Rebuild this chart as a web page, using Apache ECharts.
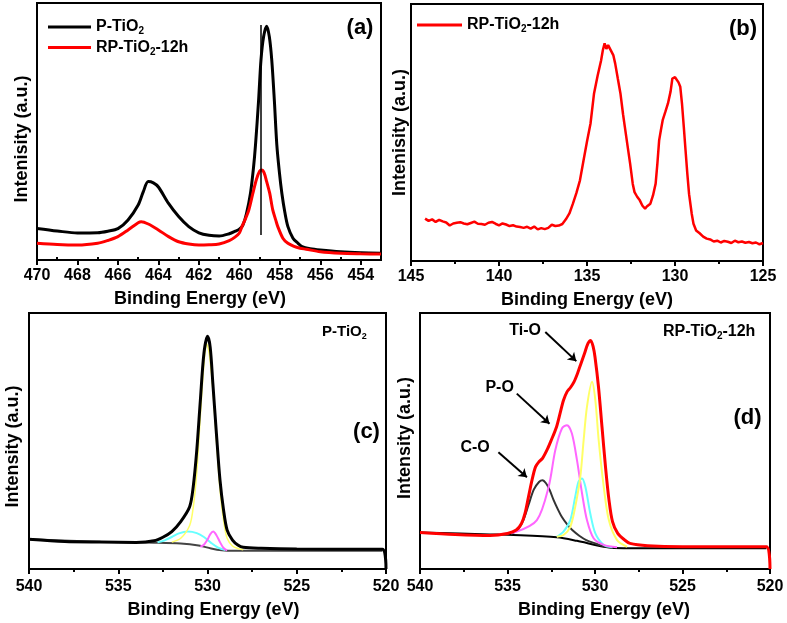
<!DOCTYPE html>
<html><head><meta charset="utf-8">
<script src="https://cdn.jsdelivr.net/npm/echarts@6/dist/echarts.min.js"></script>
<style>html,body{margin:0;padding:0;background:#fff}#c{width:787px;height:623px}</style>
</head><body><div id="c"></div>
<script>
const FONT = '"Liberation Sans", Arial, sans-serif';

// ---------- Panel (a): Ti 2p ----------
const aTicks = [454, 456, 458, 460, 462, 464, 466, 468, 470];
const aMinorTicks = [455, 457, 459, 461, 463, 465, 467, 469];
const aP = [[470,12.3],[469,11.3],[468,10.5],[467,10.6],[466.5,11.2],[466,12.2],[465.5,15.6],[465,21.4],[464.75,26.5],[464.5,30.5],[464.25,30],[464,28.4],[463.5,22],[463,16.9],[462.5,13],[462,10.6],[461.5,9.6],[461,9.3],[460.5,10.2],[460.2,11.2],[460,12.0],[459.83,13.5],[459.65,18],[459.45,26],[459.3,36],[459.2,45],[459.05,62],[458.93,78],[458.8,87],[458.65,91],[458.52,87],[458.4,78],[458.27,62],[458.15,45],[458.02,34],[457.9,26],[457.75,18.5],[457.6,13],[457.35,8.5],[457.1,6.5],[456.9,5.2],[456.5,4.4],[456,3.9],[455,3.2],[454,2.8],[453,2.6]];
const aRP = [[470,6.5],[469,6.0],[468,5.8],[467,6.5],[466.5,7.6],[466,9.1],[465.5,11.7],[465,14.5],[464.85,14.9],[464.5,14],[464,11.7],[463.5,9.1],[463,7.1],[462.5,6.2],[462,5.8],[461.5,5.9],[461,6.2],[460.5,7.5],[460.2,9],[460,10.5],[459.87,13],[459.7,16],[459.53,19.5],[459.33,26],[459.15,31.5],[459.0,34.5],[458.9,35],[458.78,34],[458.65,30.5],[458.5,26],[458.35,19.5],[458.2,15.5],[458.1,13],[457.85,8.5],[457.6,6.5],[457.3,5.3],[457,4.6],[456.7,4.2],[456,3.2],[455,2.6],[454,2.4],[453,2.3]];
const aRefLine = [[458.95, 91.4], [458.95, 9.7]];

// ---------- Panel (b): P 2p ----------
const bRP = [[144.2,16.5],[144.0,15.6],[143.8,16.2],[143.6,15.2],[143.4,16.0],[143.2,15.4],[143.0,15.0],[142.8,13.8],[142.6,14.6],[142.4,14.9],[142.2,15.1],[142.0,14.6],[141.8,14.3],[141.6,14.8],[141.4,15.3],[141.2,14.5],[141.0,14.4],[140.8,14.1],[140.6,14.9],[140.4,15.2],[140.2,14.5],[140.0,13.9],[139.8,14.6],[139.6,14.2],[139.4,13.6],[139.2,13.9],[139.0,13.4],[138.8,13.2],[138.6,12.9],[138.4,13.3],[138.2,12.6],[138.0,13.4],[137.8,12.3],[137.6,12.8],[137.4,12.4],[137.2,12.9],[137.0,14.1],[136.8,13.6],[136.6,13.8],[136.4,14.4],[136.2,16.2],[136.0,18.5],[135.8,22.3],[135.6,26.5],[135.4,31.4],[135.2,39],[135.0,46.5],[134.8,53.5],[134.6,65.2],[134.4,72],[134.2,78],[134.1,82],[134.0,84.7],[133.9,82.5],[133.8,84],[133.7,83.4],[133.5,80],[133.4,76.9],[133.25,71],[133.1,65.2],[132.95,57],[132.85,52.2],[132.7,45],[132.55,37.9],[132.4,30],[132.3,26.8],[132.15,25],[132.0,23.6],[131.85,21.5],[131.7,20.4],[131.6,21.2],[131.4,22.3],[131.25,25.5],[131.1,30.1],[131.0,38],[130.9,47],[130.8,51],[130.7,54.8],[130.55,58],[130.4,61.3],[130.25,66],[130.15,71],[130.0,71.5],[129.9,71],[129.8,69.5],[129.7,67.8],[129.6,61],[129.5,52.2],[129.4,43],[129.3,34],[129.2,26],[129.05,18.4],[128.95,14.5],[128.8,11.9],[128.6,10.8],[128.4,9.5],[128.2,8.7],[128.0,8.4],[127.8,7.6],[127.6,7.9],[127.4,7.2],[127.2,7.8],[127.0,7.5],[126.8,7.0],[126.6,7.9],[126.4,7.3],[126.2,7.6],[126.0,7.1],[125.8,7.4],[125.6,6.9],[125.4,7.2],[125.2,6.5],[125.0,7.0]];

// ---------- Panel (c): O 1s P-TiO2 ----------
const cEnv = [[540,11.6],[538,10.7],[536,10.5],[534,10.4],[533,11],[532.5,12.4],[532,14.6],[531.5,18.5],[531,24.3],[530.8,32.1],[530.6,46.4],[530.4,65.9],[530.2,84.2],[530.0,90.9],[529.85,86.7],[529.7,72.5],[529.5,52.9],[529.3,34.7],[529.1,23],[528.9,15.2],[528.6,11.3],[528.3,9.4],[528,8.5],[527,8.1],[525,7.8],[520.2,7.7],[520,0]];
const cBg = [[540,11.6],[536,10.6],[533,10.3],[531.5,10.0],[530.5,9.2],[529.8,8.0],[529.2,7.3],[528.5,7.1],[520.2,7.1]];
const cCyan = [[532.8,10.4],[532.4,11.2],[532,12.5],[531.6,13.9],[531.1,14.6],[530.6,14.0],[530.2,12.5],[529.8,10.2],[529.4,8.3],[529.0,7.4]];
const cMag = [[530.4,8.7],[530.2,9.5],[530.0,11.5],[529.85,13.5],[529.68,14.6],[529.5,13.2],[529.3,10.5],[529.1,8.2],[528.9,7.3]];
const cYel = [[532,10.5],[531.5,12],[531,17],[530.8,24],[530.6,38],[530.4,60],[530.2,80],[530.05,88],[529.9,84],[529.7,70],[529.5,50],[529.3,31],[529.1,19],[528.9,12],[528.6,9],[528.3,8],[528,7.5]];

// ---------- Panel (d): O 1s RP-TiO2-12h ----------
const dEnv = [[540,14.3],[538,13.5],[536,13.1],[535,13.9],[534.5,15.2],[534.2,17.8],[534,21.7],[533.8,28.2],[533.6,34.7],[533.4,39.9],[533.2,41.9],[533,43.2],[532.7,47.1],[532.5,50.3],[532.2,55.5],[532.0,60.7],[531.8,65.9],[531.6,69.2],[531.4,70.9],[531.2,73.1],[531.0,76.4],[530.8,80.3],[530.6,84.2],[530.4,88.1],[530.25,89.3],[530.1,86.7],[530.0,82.8],[529.8,71.1],[529.6,55.5],[529.4,39.9],[529.2,26.9],[529.0,18.5],[528.7,13.9],[528.3,11.3],[528,10],[527,9.1],[525,8.7],[520.2,8.7],[520,0]];
const dBg = [[540,14.3],[536,13.5],[534.66,13.3],[532.18,12.4],[531.03,11],[529.5,8.7],[528.36,8.1],[520.2,8.1]];
const dCO = [[534.8,13.6],[534.4,15.5],[534.1,19],[533.8,25],[533.5,31],[533.2,34],[533.0,34.7],[532.8,33.5],[532.6,31],[532.37,27],[532.1,23],[531.9,20.4],[531.6,17.5],[531.3,15.2],[530.9,13],[530.5,11.3],[530,10],[529.5,8.9],[529,8.3]];
const dPO = [[535.5,13.6],[534.47,14.6],[533.32,19.1],[532.65,32.1],[532.27,46.4],[531.89,54.9],[531.6,56.2],[531.32,52.9],[531.03,42.5],[530.74,29.5],[530.46,19.1],[530.08,12],[529.5,9.4],[528.74,8.5]];
const dCyan = [[532.18,12.6],[531.8,14.6],[531.41,19.1],[531.13,28.2],[530.94,34.1],[530.74,35.4],[530.55,32.1],[530.27,21.7],[529.98,13.9],[529.5,9.4],[529.0,8.5]];
const dTiO = [[532.18,12.6],[531.8,13.3],[531.41,16.5],[531.13,24.3],[530.84,36],[530.65,50.3],[530.46,63.3],[530.17,73.1],[529.98,65.9],[529.79,50.3],[529.5,32.1],[529.21,19.1],[528.74,11.3],[528.17,8.7]];
const dArrows = [
  {label: 'Ti-O', text: [533.99, 93.0], from: [532.84, 92.6], to: [531.07, 81.2]},
  {label: 'P-O',  text: [535.45, 70.9], from: [534.47, 68.5], to: [532.6, 56.7]},
  {label: 'C-O',  text: [536.85, 47.5], from: [535.52, 45.6], to: [533.89, 35.8]}
];

const chart = echarts.init(document.getElementById('c'));

const labelStyle = {fontFamily: FONT, fontWeight: 'bold', fontSize: 16, color: '#000'};
const nameStyleX = {fontFamily: FONT, fontWeight: 'bold', fontSize: 18, color: '#000'};

function xAxis(grid, min, max, opts) {
  return Object.assign({
    type: 'value', gridIndex: grid, min: min, max: max, inverse: true,
    name: 'Binding Energy (eV)', nameLocation: 'middle', nameGap: 30,
    nameTextStyle: Object.assign({}, nameStyleX),
    axisLine: {show: true, onZero: false, lineStyle: {color: '#000', width: 2}},
    axisTick: {show: true, length: 5, lineStyle: {color: '#000', width: 2}},
    minorTick: {show: true, splitNumber: 2, length: 3, lineStyle: {color: '#000', width: 2}},
    axisLabel: Object.assign({margin: 8}, labelStyle),
    splitLine: {show: false}, minorSplitLine: {show: false}
  }, opts || {});
}
function yAxis(grid, name, gap, pad) {
  return {
    type: 'value', gridIndex: grid, min: 0, max: 100,
    name: name, nameLocation: 'middle', nameGap: gap, nameRotate: 90,
    nameTextStyle: {fontFamily: FONT, fontWeight: 'bold', fontSize: 18, color: '#000', padding: pad},
    axisLine: {show: true, lineStyle: {color: '#000', width: 2}},
    axisTick: {show: false}, axisLabel: {show: false}, splitLine: {show: false}
  };
}
function line(name, xi, yi, data, color, width, smooth, z) {
  return {
    type: 'line', name: name, xAxisIndex: xi, yAxisIndex: yi, data: data,
    showSymbol: false, symbol: 'none', smooth: smooth, z: z || 2,
    lineStyle: {color: color, width: width}, itemStyle: {color: color},
    emphasis: {disabled: true}, silent: true
  };
}

const legendRich = {s: {fontFamily: FONT, fontWeight: 'bold', fontSize: 10, verticalAlign: 'bottom', padding: [9, 0, 0, 0]}};
const legendFmt = n => n === 'P-TiO2' ? 'P-TiO{s|2}' : 'RP-TiO{s|2}-12h';

const seriesA0 = line('P-TiO2', 0, 0, aP, '#000', 3, 0.3, 3);
seriesA0.markLine = {
  silent: true, symbol: ['none', 'none'], animation: false, label: {show: false},
  lineStyle: {color: '#000', width: 1.5, type: 'solid'},
  data: [[{coord: aRefLine[0]}, {coord: aRefLine[1]}]]
};
const seriesD = line('dEnv', 4, 3, dEnv, '#ff0000', 3, 0.3, 5);
seriesD.markLine = {
  silent: true, symbol: ['none', 'arrow'], symbolSize: 8, animation: false, label: {show: false},
  lineStyle: {color: '#000', width: 2, type: 'solid'},
  data: dArrows.map(a => [{coord: a.from}, {coord: a.to}])
};

chart.setOption({
  animation: false,
  backgroundColor: '#fff',
  grid: [
    {left: 37, top: 3, width: 344, height: 257, show: true, borderColor: '#000', borderWidth: 2},
    {left: 411, top: 4, width: 352, height: 257, show: true, borderColor: '#000', borderWidth: 2},
    {left: 29, top: 313, width: 357, height: 256, show: true, borderColor: '#000', borderWidth: 2},
    {left: 420, top: 313, width: 350, height: 256, show: true, borderColor: '#000', borderWidth: 2}
  ],
  legend: [
    {data: ['P-TiO2', 'RP-TiO2-12h'], orient: 'vertical', left: 48, top: 19, itemWidth: 43, itemHeight: 3,
     itemGap: 3, icon: 'rect', padding: 0, selectedMode: false, formatter: legendFmt,
     textStyle: {fontFamily: FONT, fontWeight: 'bold', fontSize: 16, color: '#000', rich: legendRich}},
    {data: ['RP-TiO2-12h'], orient: 'vertical', left: 417, top: 17, itemWidth: 45, itemHeight: 3,
     icon: 'rect', padding: 0, selectedMode: false, formatter: legendFmt,
     textStyle: {fontFamily: FONT, fontWeight: 'bold', fontSize: 16, color: '#000', rich: legendRich}}
  ],
  xAxis: [
    xAxis(0, 453, 470, {
      nameTextStyle: Object.assign({}, nameStyleX, {padding: [0, 18, 0, 0]}),
      minorTick: {show: false},
      axisTick: {show: true, length: 5, customValues: aTicks, lineStyle: {color: '#000', width: 2}},
      axisLabel: Object.assign({margin: 8, customValues: aTicks}, labelStyle)
    }),
    {type: 'value', gridIndex: 0, min: 453, max: 470, inverse: true,
     axisLine: {show: false}, axisLabel: {show: false}, splitLine: {show: false},
     axisTick: {show: true, length: 3, customValues: aMinorTicks, lineStyle: {color: '#000', width: 2}}},
    xAxis(1, 125, 145, {interval: 5}),
    xAxis(2, 520, 540, {interval: 5, nameGap: 32, axisLabel: Object.assign({margin: 10}, labelStyle),
      nameTextStyle: Object.assign({}, nameStyleX, {padding: [0, 0, 0, 12]})}),
    xAxis(3, 520, 540, {interval: 5, nameGap: 32, axisLabel: Object.assign({margin: 10}, labelStyle),
      nameTextStyle: Object.assign({}, nameStyleX, {padding: [0, 0, 0, 18]})})
  ],
  yAxis: [
    yAxis(0, 'Intenisity (a.u.)', 6, [0, 15, 0, 0]),
    yAxis(1, 'Intenisity (a.u.)', 2, [0, 0, 0, 0]),
    yAxis(2, 'Intensity (a.u.)', 7, [0, 11, 0, 0]),
    yAxis(3, 'Intensity (a.u.)', 6, [0, 0, 0, 6])
  ],
  series: [
    seriesA0,
    line('RP-TiO2-12h', 0, 0, aRP, '#ff0000', 3, 0.3, 4),
    line('RP-TiO2-12h', 2, 1, bRP, '#ff0000', 2.5, false, 3),
    line('cBg', 3, 2, cBg, '#444444', 2, 0.3, 2),
    line('cCyan', 3, 2, cCyan, '#66ffff', 2, 0.3, 2),
    line('cMag', 3, 2, cMag, '#ff66ff', 2, 0.3, 2),
    line('cYel', 3, 2, cYel, '#ffff66', 1.5, 0.3, 2),
    line('cEnv', 3, 2, cEnv, '#000', 3, 0.3, 4),
    line('dBg', 4, 3, dBg, '#000', 2, 0.3, 2),
    line('dCO', 4, 3, dCO, '#333333', 2, 0.3, 2),
    line('dCyan', 4, 3, dCyan, '#66ffff', 2, 0.3, 2),
    line('dPO', 4, 3, dPO, '#ff66ff', 2, 0.3, 2),
    line('dTiO', 4, 3, dTiO, '#ffff66', 2, 0.3, 2),
    seriesD
  ]
});

const txtBase = {fontFamily: FONT, fontWeight: 'bold', fill: '#000'};
function txt(x, y, text, size, align, rich) {
  return {type: 'text', x: x, y: y, silent: true, z: 100,
    style: Object.assign({}, txtBase, {text: text, fontSize: size, align: align || 'center', verticalAlign: 'middle', rich: rich})};
}
const subRich = sz => ({s: {fontFamily: FONT, fontWeight: 'bold', fontSize: sz, fill: '#000', verticalAlign: 'bottom', padding: [9, 0, 0, 0]}});
const gfx = [
  txt(360, 28, '(a)', 22),
  txt(743, 29, '(b)', 22),
  txt(366.5, 432, '(c)', 22),
  txt(747.5, 418, '(d)', 22),
  txt(322, 332, 'P-TiO{s|2}', 15, 'left', subRich(9)),
  txt(663, 332, 'RP-TiO{s|2}-12h', 16, 'left', subRich(10))
];
dArrows.forEach(a => {
  const p = chart.convertToPixel({xAxisIndex: 4, yAxisIndex: 3}, a.text);
  gfx.push(txt(p[0], p[1], a.label, 16));
});
chart.setOption({graphic: gfx});
</script>
</body></html>
